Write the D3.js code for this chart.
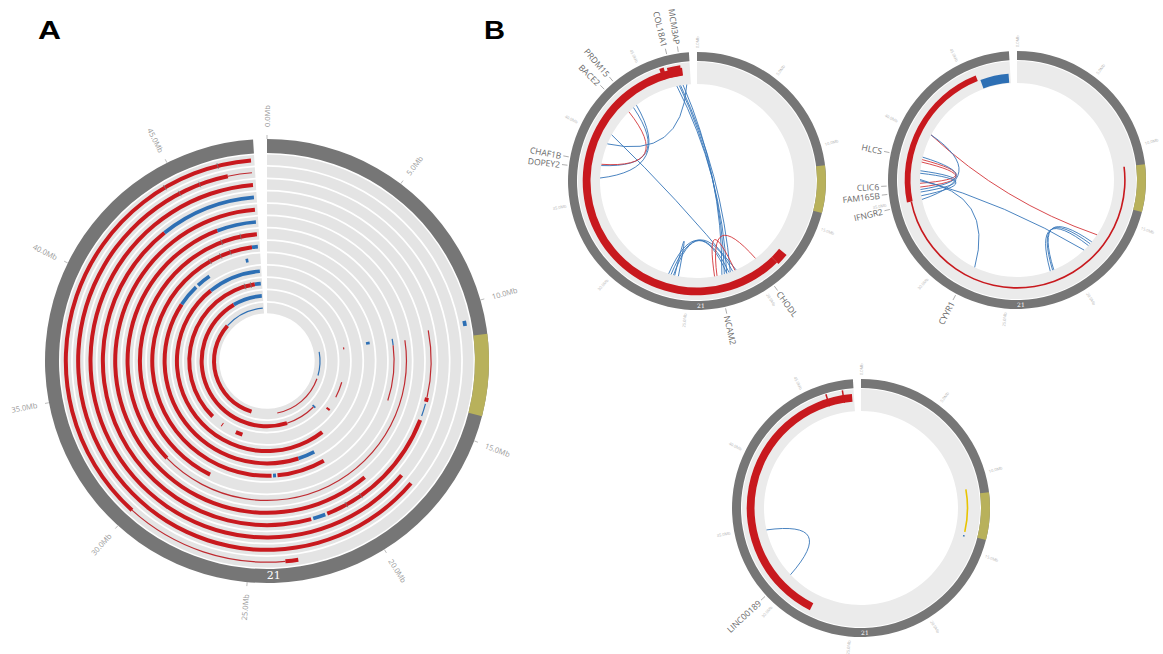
<!DOCTYPE html>
<html><head><meta charset="utf-8">
<script src="https://cdn.jsdelivr.net/npm/d3@7/dist/d3.min.js"></script>
<style>html,body{margin:0;padding:0;background:#fff;} svg{display:block;font-family:"Open Sans","Noto Sans",sans-serif;}</style>
</head><body>
<svg id="chart" width="1163" height="654"></svg>
<script>
// ---------------- data ----------------
const chrName = "21";
const chrLength = 48.13;          // Mb
const gapDeg = 3.6;               // opening at the top of each circle
const centromere = [11.2, 14.1];
const tickMb = [0, 5, 10, 15, 20, 25, 30, 35, 40, 45];
const tickLabels = ["0.0Mb", "5.0Mb", "10.0Mb", "15.0Mb", "20.0Mb", "25.0Mb", "30.0Mb", "35.0Mb", "40.0Mb", "45.0Mb"];

// Panel A: 13 sample tracks, outermost first. [start Mb, end Mb, type]
// R = gain (thick red), r = low gain (thin red), B = loss (thick blue), b = thin blue, k = small marker
const trackA01 = [[10.6,10.8,"B"],[23.1,23.6,"R"],[23.6,30.0,"r"],[30.0,48.0,"R"],[44.5,44.5,"k"],[46.7,46.7,"k"]];
const trackA02 = [[17.6,47.0,"R"],[47.0,48.0,"r"],[44.9,44.9,"k"],[45.8,45.8,"k"]];
const trackA03 = [[17.6,48.0,"R"]];
const trackA04 = [[10.7,13.9,"r"],[13.9,14.1,"R"],[14.2,14.8,"b"],[15.0,21.4,"R"],[21.5,22.1,"B"],[22.2,43.4,"R"],[43.4,48.0,"B"],[19.6,19.6,"k"],[20.4,20.4,"k"]];
const trackA05 = [[18.9,48.0,"R"]];
const trackA06 = [[11.0,30.5,"r"],[30.5,45.8,"R"],[45.8,48.0,"B"]];
const trackA07 = [[10.8,11.2,"b"],[11.2,14.6,"r"],[27.9,48.0,"R"],[45.8,45.8,"k"],[47.0,47.0,"k"]];
const trackA08 = [[20.3,23.6,"R"],[23.7,23.9,"B"],[24.0,47.6,"R"],[47.6,48.0,"B"],[44.6,44.6,"k"],[45.4,45.4,"k"],[46.1,46.1,"k"]];
const trackA09 = [[10.7,10.9,"B"],[20.6,21.9,"B"],[21.9,41.0,"R"],[41.0,42.7,"B"],[42.9,44.0,"B"],[47.0,47.2,"B"]];
const trackA10 = [[19.2,43.4,"R"],[43.4,48.0,"B"]];
const trackA11 = [[10.8,11.0,"r"],[14.3,15.9,"r"],[17.2,17.4,"R"],[26.8,27.5,"R"],[29.0,29.1,"R"],[30.3,47.4,"R"],[47.4,48.0,"B"],[46.4,46.4,"k"],[47.0,47.0,"k"]];
const trackA12 = [[18.0,18.2,"B"],[18.2,21.9,"r"],[21.9,44.5,"R"],[44.5,48.0,"B"]];
const trackA13 = [[10.8,14.3,"b"],[14.8,22.8,"r"],[26.6,42.1,"R"],[42.1,48.0,"b"]];
const tracksA = [trackA01,trackA02,trackA03,trackA04,trackA05,trackA06,trackA07,trackA08,trackA09,trackA10,trackA11,trackA12,trackA13];

// Panel B: copy-number band [start, end, type, level] and links [pos1, pos2, colour]
const bandB1 = [[17.5,18.3,"R",1.25],[18.3,47.6,"R",1],[46.1,46.4,"R",1.5],[46.6,47.5,"R",1.35]];
const bandB2 = [[11.2,34.9,"r",1],[34.9,45.7,"R",0.75],[45.9,48.0,"B",1.15]];
const bandB3 = [[27.9,48.0,"R",1],[46.25,46.35,"R",1.6],[47.35,47.45,"R",1.6],[10.8,13.9,"y",1],[14.15,14.25,"b",1]];

const linksB1 = [[47.0,21.9,"b"],[47.2,22.1,"b"],[47.3,21.6,"b"],[47.5,22.3,"b"],[40.3,21.1,"b"],
  [43.1,37.7,"b"],[42.6,37.8,"r"],[47.8,39.5,"b"],[43.4,36.7,"b"],
  [26.6,21.7,"b"],[26.4,21.4,"b"],[26.2,21.9,"b"],[26.1,25.8,"b"],
  [22.7,19.3,"r"],[22.9,21.2,"r"]];
const linksB2 = [[40.2,16.8,"r"],[36.5,18.4,"b"],[40.2,34.9,"b"],[38.1,36.2,"r"],[37.9,35.9,"r"],
  [38.3,35.7,"b"],[37.2,35.5,"b"],[37.0,35.2,"b"],[36.4,27.8,"b"],
  [21.4,17.7,"b"],[21.6,17.9,"b"],[21.3,17.5,"b"]];
const linksB3 = [[34.7,30.6,"b"]];

const genesB1 = [["MCM3AP",47.5],["COL18A1",46.8],["PRDM15",43.2],["BACE2",42.5],["CHAF1B",37.9],["DOPEY2",37.4],["CHODL",19.4],["NCAM2",22.6]];
const genesB2 = [["HLCS",38.1],["CLIC6",36.1],["FAM165B",35.6],["IFNGR2",34.7],["CYYR1",28.1]];
const genesB3 = [["LINC00189",30.7]];

// ---------------- drawing ----------------
const red = "#c8191e", redThin = "#bf2a30", blue = "#2d6fb4", yellow = "#e8c400";
const svg = d3.select("#chart");
const angle = d3.scaleLinear().domain([0, chrLength]).range([0, (360 - gapDeg) * Math.PI / 180]);
const arc = d3.arc();
const deg = a => a * 180 / Math.PI;
const polar = (a, r) => [r * Math.sin(a), -r * Math.cos(a)];

function ideogram(g, rIn, rOut, tickR, tickFont, chrFont, tickColor, tickLen) {
  g.append("path").attr("d", arc({innerRadius: rIn, outerRadius: rOut, startAngle: angle(0), endAngle: angle(chrLength)})).attr("fill", "#767676");
  g.append("path").attr("d", arc({innerRadius: rIn, outerRadius: rOut, startAngle: angle(centromere[0]), endAngle: angle(centromere[1])})).attr("fill", "#b8b15b");
  tickMb.forEach((t, i) => {
    const a = angle(t), d = deg(a);
    if (tickLen > 0) {
      const [x1, y1] = polar(a, rOut), [x2, y2] = polar(a, rOut + tickLen);
      g.append("line").attr("x1", x1).attr("y1", y1).attr("x2", x2).attr("y2", y2).attr("stroke", "#aaa").attr("stroke-width", 0.8);
    }
    const flip = d > 180;
    g.append("text")
      .attr("transform", `rotate(${d - 90}) translate(${tickR},0)` + (flip ? " rotate(180)" : ""))
      .attr("text-anchor", flip ? "end" : "start").attr("dominant-baseline", "central")
      .attr("font-size", tickFont).attr("fill", tickColor).text(tickLabels[i]);
  });
  const am = angle(chrLength / 2);
  const [lx, ly] = polar(am, (rIn + rOut) / 2);
  g.append("text").attr("x", lx).attr("y", ly).attr("text-anchor", "middle").attr("dominant-baseline", "central")
    .attr("fill", "#fff").attr("font-size", chrFont).attr("font-family", "DejaVu Serif, serif").text(chrName);
}

// ---- Panel A ----
const gA = svg.append("g").attr("transform", "translate(267,361)");
ideogram(gA, 208, 222, 234, 7.5, 11, "#9a9a9a", 4);
const trackOuter0 = 206.5, trackStep = 12.35, trackWidth = 10.6;
tracksA.forEach((segs, i) => {
  const ro = trackOuter0 - i * trackStep, ri = ro - trackWidth, rm = (ro + ri) / 2;
  gA.append("path").attr("d", arc({innerRadius: ri, outerRadius: ro, startAngle: angle(0), endAngle: angle(chrLength)})).attr("fill", "#e4e4e4");
  segs.filter(s => s[2] !== "k").forEach(([s, e, t]) => {
    const w = {R: 4.0, B: 3.7, r: 1.2, b: 1.2}[t];
    const col = t === "R" ? red : t === "r" ? redThin : blue;
    gA.append("path").attr("d", arc({innerRadius: rm - w / 2, outerRadius: rm + w / 2, startAngle: angle(s), endAngle: angle(e)})).attr("fill", col);
  });
  segs.filter(s => s[2] === "k").forEach(([s]) => {
    const a = angle(s);
    const [x1, y1] = polar(a, rm - 3), [x2, y2] = polar(a, rm + 3);
    gA.append("line").attr("x1", x1).attr("y1", y1).attr("x2", x2).attr("y2", y2).attr("stroke", "#777").attr("stroke-width", 0.8);
  });
});

// ---- Panel B ----
function panelB(cx, cy, bands, links, genes) {
  const g = svg.append("g").attr("transform", `translate(${cx},${cy})`);
  ideogram(g, 120, 129, 133, 4.0, 6, "#b5b5b5", 0);
  g.append("path").attr("d", arc({innerRadius: 97, outerRadius: 119, startAngle: angle(0), endAngle: angle(chrLength)})).attr("fill", "#ebebeb");
  const base = 106.5, unit = 7.8;
  bands.forEach(([s, e, t, lv]) => {
    let ri, ro, col;
    if (t === "R") { ri = base; ro = base + unit * lv; col = red; }
    else if (t === "B") { ri = base - unit * lv; ro = base; col = blue; }
    else if (t === "r") { ri = base + 0.6; ro = base + 2.2; col = red; }
    else if (t === "y") { ri = base - 0.8; ro = base + 0.8; col = yellow; }
    else { ri = base - 0.8; ro = base + 0.8; col = blue; }
    g.append("path").attr("d", arc({innerRadius: ri, outerRadius: ro, startAngle: angle(s), endAngle: angle(e)})).attr("fill", col);
  });
  const rr = 97, rc = 26;
  links.forEach(([p1, p2, c]) => {
    const a1 = angle(p1), a2 = angle(p2);
    let d = a2 - a1;
    while (d > Math.PI) d -= 2 * Math.PI;
    while (d < -Math.PI) d += 2 * Math.PI;
    const am = a1 + d / 2;
    const [x1, y1] = polar(a1, rr), [x2, y2] = polar(a2, rr), [qx, qy] = polar(am, rc);
    g.append("path").attr("d", `M${x1},${y1} Q${qx},${qy} ${x2},${y2}`).attr("fill", "none")
      .attr("stroke", c === "r" ? "#d4363b" : "#3777b9").attr("stroke-width", 1).attr("stroke-opacity", 0.9);
  });
  genes.forEach(([name, p]) => {
    const a = angle(p), dd = deg(a);
    const [x1, y1] = polar(a, 130.5), [x2, y2] = polar(a, 136);
    g.append("line").attr("x1", x1).attr("y1", y1).attr("x2", x2).attr("y2", y2).attr("stroke", "#999").attr("stroke-width", 0.8);
    const flip = dd > 180;
    g.append("text")
      .attr("transform", `rotate(${dd - 90}) translate(138,0)` + (flip ? " rotate(180)" : ""))
      .attr("text-anchor", flip ? "end" : "start").attr("dominant-baseline", "central")
      .attr("font-size", 8.5).attr("fill", "#666").text(name);
  });
}
panelB(697, 181, bandB1, linksB1, genesB1);
panelB(1017, 180, bandB2, linksB2, genesB2);
panelB(861, 508, bandB3, linksB3, genesB3);

// panel letters
svg.append("text").attr("x", 38).attr("y", 39).attr("font-size", 25).attr("font-weight", "bold")
  .attr("font-family", "Liberation Sans, Arial, sans-serif").attr("textLength", 23).attr("lengthAdjust", "spacingAndGlyphs").text("A");
svg.append("text").attr("x", 484).attr("y", 39).attr("font-size", 25).attr("font-weight", "bold")
  .attr("font-family", "Liberation Sans, Arial, sans-serif").attr("textLength", 21).attr("lengthAdjust", "spacingAndGlyphs").text("B");
</script>
</body></html>
